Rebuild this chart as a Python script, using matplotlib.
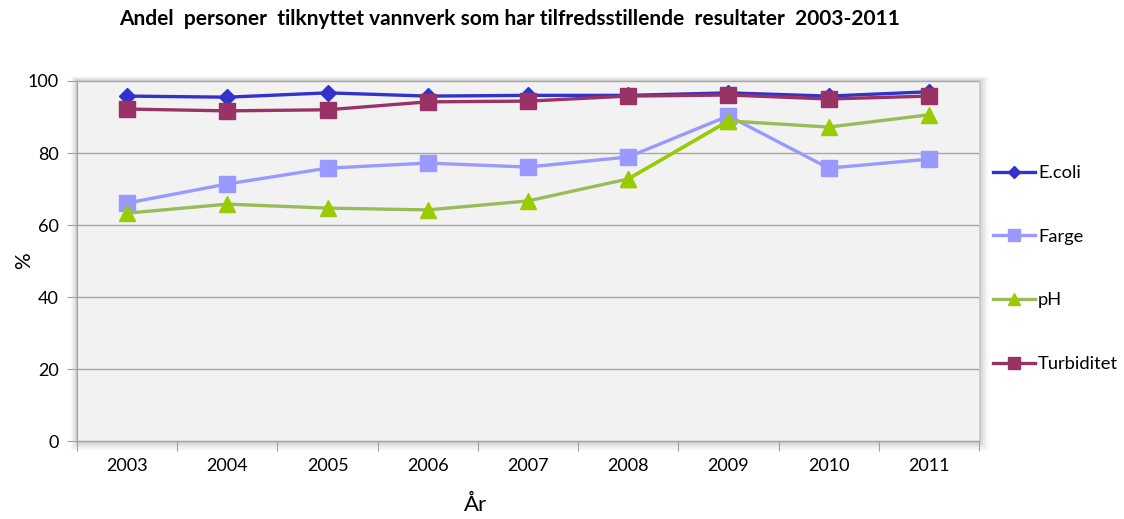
import matplotlib
matplotlib.use('Agg')
import matplotlib.pyplot as plt
from matplotlib.patches import Rectangle
import numpy as np

years = ['2003', '2004', '2005', '2006', '2007', '2008', '2009', '2010', '2011']
ecoli = [95.8, 95.5, 96.7, 95.8, 96.0, 96.0, 96.7, 95.8, 97.0]
farge = [66.1, 71.4, 75.8, 77.2, 76.1, 78.9, 90.3, 75.8, 78.3]
ph = [63.3, 65.8, 64.7, 64.2, 66.7, 72.8, 88.9, 87.2, 90.6]
turbiditet = [92.2, 91.7, 92.0, 94.2, 94.4, 95.8, 96.1, 95.0, 95.8]

plt.rcParams['font.family'] = ['Lato', 'DejaVu Sans']

fig = plt.figure(figsize=(11.24, 5.19), dpi=100)
ax = fig.add_axes([0.0685, 0.150, 0.8025, 0.694])
ax.set_zorder(2)

# skygge bak plotteomraadet
for i, a in enumerate([0.07, 0.05, 0.04, 0.03, 0.02]):
    d = (i + 1) * 2
    fig.patches.append(Rectangle((0.0685 - (d * 0.6) / 1124.0, 0.150 - d / 519.0),
                                 0.8025 + (d * 1.6) / 1124.0, 0.694 + (d * 1.5) / 519.0,
                                 transform=fig.transFigure, facecolor='black',
                                 alpha=a, edgecolor='none', zorder=0))

ax.set_facecolor('#F2F2F2')
x = np.arange(len(years))

ax.plot(x, ecoli, color='#3333CC', lw=2.4, marker='D', ms=8, mfc='#3333CC', mec='#3333CC', label='E.coli', zorder=3)
ax.plot(x, farge, color='#9999FF', lw=2.4, marker='s', ms=11, mfc='#9999FF', mec='#9999FF', label='Farge', zorder=4)
ax.plot(x, ph, color='#9BBB59', lw=2.4, marker='^', ms=11, mfc='#99CC00', mec='#99CC00', label='pH', zorder=5)
ax.plot(x[5:7], ph[5:7], color='#99CC00', lw=2.4, zorder=5)
ax.plot(x[5:7], ph[5:7], color='#99CC00', lw=0, marker='^', ms=11, zorder=5)
ax.plot(x, turbiditet, color='#993366', lw=2.4, marker='s', ms=11, mfc='#993366', mec='#993366', label='Turbiditet', zorder=6)

ax.set_xlim(-0.5, 8.5)
ax.set_ylim(0, 100)
ax.set_yticks([0, 20, 40, 60, 80, 100])
ax.set_xticks(np.arange(-0.5, 9, 1))
ax.set_xticklabels([])
ax.set_xticks(x, minor=True)
ax.set_xticklabels(years, minor=True)
ax.tick_params(axis='x', which='minor', length=0, pad=12, labelsize=13)
ax.tick_params(axis='x', which='major', length=7, color='#A0A0A0', direction='out')
ax.tick_params(axis='y', length=7, color='#A0A0A0', labelsize=13, pad=6)
ax.grid(axis='y', color='#A6A6A6', lw=1)
ax.set_axisbelow(True)
for s in ['top', 'right']:
    ax.spines[s].set_visible(False)
for s in ['left', 'bottom']:
    ax.spines[s].set_color('#A0A0A0')

ax.set_ylabel('%', fontsize=15)
ax.yaxis.set_label_coords(-0.048, 0.5)
ax.set_xlabel('År', fontsize=16)
ax.xaxis.set_label_coords(0.442, -0.148)

fig.text(0.4537, 0.963, 'Andel  personer  tilknyttet vannverk som har tilfredsstillende  resultater  2003-2011',
         ha='center', va='center', fontsize=15, fontweight='bold')

leg = ax.legend(loc='upper left', bbox_to_anchor=(1.0075, 0.787), frameon=False, fontsize=13.2,
                labelspacing=2.6, handlelength=2.3, handletextpad=0.15, borderaxespad=0,
                markerscale=0.8)

plt.savefig('out.png', dpi=100)
